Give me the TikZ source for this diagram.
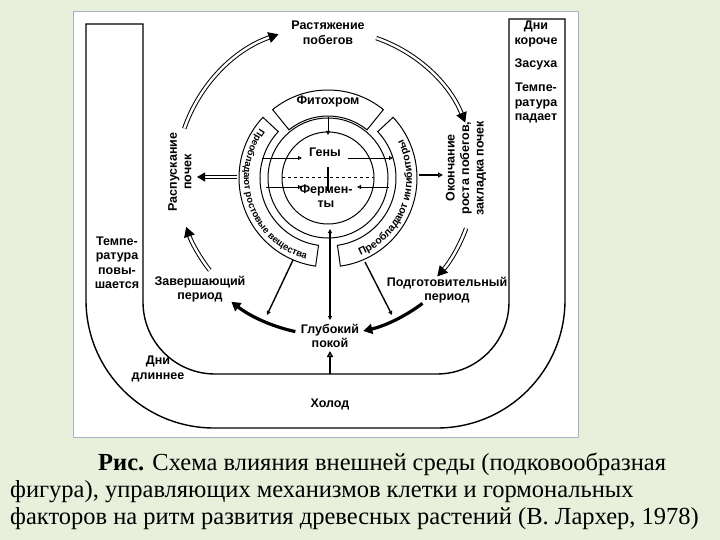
\documentclass[tikz,border=0pt]{standalone}
\usepackage{fontspec}
\setmainfont{Liberation Serif}
\setsansfont{Liberation Sans}
\usetikzlibrary{arrows.meta,calc,decorations.text}
\definecolor{bgfill}{RGB}{232,239,219}
\definecolor{panelline}{RGB}{165,180,195}

\begin{document}
\begin{tikzpicture}[x=1pt,y=-1pt,
lbl/.style={%
font=\sffamily\bfseries\fontsize{12.5}{14.5}\selectfont,
align=center,
inner sep=0pt
},
hollow/.style={%
draw=black,
line width=1pt,
double=white,
double distance=2.4pt,
-{Triangle[length=10pt,width=11pt]}
},
heavy/.style={%
line width=3.2pt,
-{Triangle[length=9pt,width=10pt]}
},
thin/.style={%
line width=0.9pt,
-{Triangle[open,length=4pt,width=4pt]}
},
segment/.style={%
draw,
line width=1pt,
fill=white
},
arctext/.style 2 args={%
decorate,
decoration={text along path,text align=center,
text={|\sffamily\bfseries\fontsize{#1}{10}\selectfont|#2}}
},
capline/.style={%
anchor=base west,
inner sep=0pt,
font=\fontsize{24.5}{27}\selectfont
},
]
%% Background and panel
\fill[bgfill](0,0)rectangle(720,540);
\useasboundingbox(0,0)rectangle(720,540);
\draw[panelline,fill=white,line width=0.8pt](73,11)rectangle(578,437);
%% Horseshoe
\draw[line width=1.4pt](86,24)--(143,24)--(143,302)
arc[start angle=180,end angle=90,radius=72]--(437,374)
arc[start angle=90,end angle=0,radius=72]--(509,19)--(565,19)--(565,300)
arc[start angle=0,end angle=90,radius=128]--(214,428)
arc[start angle=90,end angle=180,radius=128]--cycle;
%% Rings
\coordinate(C)at(328,178);
\draw[line width=1pt](C)circle[radius=46];
\draw[line width=1pt](C)circle[radius=60];
\draw[segment]($(C)+(-51:88)$)arc[start angle=-51,end angle=-129,radius=88]
--($(C)+(-129:62)$)arc[start angle=-129,end angle=-51,radius=62]--cycle;
\draw[segment]($(C)+(-137:89)$)arc[start angle=-137,end angle=-262,radius=89]
--($(C)+(-262:68)$)arc[start angle=-262,end angle=-137,radius=68]--cycle;
\draw[segment]($(C)+(82:89)$)arc[start angle=82,end angle=-43,radius=89]
--($(C)+(-43:68)$)arc[start angle=-43,end angle=82,radius=68]--cycle;
\path[arctext={9.5}{Преобладают ростовые вещества}]($(C)+(-137:84)$)
arc[start angle=-137,end angle=-262,radius=84];
\path[arctext={10.5}{Преобладают ингибиторы}]($(C)+(80:84)$)
arc[start angle=80,end angle=-40,radius=84];
\node[lbl](fito)at(328,101){Фитохром};
\node[lbl](geny)at(325,152){Гены};
\node[lbl](ferm)at(326,196){Фермен-\\ты};
%% Inner arrows
\coordinate(fitoin)at(328,117);
\coordinate(fitoout)at(328,135);
\draw[thin](fitoin)--(fitoout);
\coordinate(gl)at(262,158);
\coordinate(gli)at(302,158);
\coordinate(gri)at(348,158);
\coordinate(gr)at(393,158);
\draw[thin](gl)--(gli);
\draw[thin](gri)--(gr);
\coordinate(fl)at(266,187);
\coordinate(fli)at(302,187);
\coordinate(fr)at(389,187);
\coordinate(fri)at(357,187);
\draw[thin](fl)--(fli);
\draw[thin](fr)--(fri);
\coordinate(dl)at(282,177);
\coordinate(dr)at(374,177);
\draw[dashed,line width=0.8pt](dl)--(dr);
\coordinate(vt)at(328,167);
\coordinate(vb)at(328,191);
\draw[line width=1.6pt](vt)--(vb);
%% Stages
\node[lbl](rast)at(328,33){Растяжение\\побегов};
\node[lbl,rotate=90](rasp)at(180,172){Распускание\\почек};
\node[lbl,rotate=90](okon)at(466,168){Окончание\\роста побегов,\\закладка почек};
\node[lbl](zav)at(200,289){Завершающий\\период};
\node[lbl](podg)at(447,290){Подготовительный\\период};
\node[lbl](glub)at(330,336){Глубокий\\покой};
%% Cycle arrows
\draw[hollow](C)++(-161:152)arc[start angle=-161,end angle=-109,radius=152];
\draw[hollow](C)++(-71:148)arc[start angle=-71,end angle=-22,radius=148];
\draw[hollow](C)++(20:147)arc[start angle=20,end angle=42,radius=147];
\draw[hollow](C)++(-218:150)arc[start angle=-218,end angle=-199,radius=150];
\draw[heavy](C)++(53:157)arc[start angle=53,end angle=77,radius=157];
\draw[heavy](C)++(102:157)arc[start angle=102,end angle=128,radius=157];
\coordinate(lout)at(237,177);
\coordinate(lin)at(197,177);
\draw[hollow,-{Triangle[length=8pt,width=9pt]}](lout)--(lin);
\coordinate(rout)at(419,175);
\coordinate(rin)at(443,175);
\draw[thin,line width=1.2pt,-{Triangle[open,length=5pt,width=5pt]}](rout)--(rin);
\coordinate(sl)at(293,260);
\coordinate(el)at(267,315);
\draw[thin,line width=1.4pt](sl)--(el);
\coordinate(sm)at(330,229);
\coordinate(em)at(330,320);
\draw[thin,line width=1.4pt,{Triangle[open,length=4pt,width=4pt]}-{Triangle[open,length=4pt,width=4pt]}](sm)--(em);
\coordinate(sr)at(365,262);
\coordinate(er)at(392,315);
\draw[thin,line width=1.4pt](sr)--(er);
\coordinate(hb)at(330,374);
\coordinate(ht)at(330,351);
\draw[thin,line width=1.4pt,-{Triangle[open,length=6pt,width=6pt]}](hb)--(ht);
%% Environment
\node[lbl](kholod)at(330,404){Холод};
\node[lbl](dlin)at(158,369){Дни\\длиннее};
\node[lbl](tup)at(117,263){Темпе-\\ратура\\повы-\\шается};
\node[lbl](dkor)at(536,34){Дни\\короче};
\node[lbl](zas)at(536,64){Засуха};
\node[lbl](tdown)at(536,103){Темпе-\\ратура\\падает};
%% Caption
\node[capline](cap1)at(98,470){\textbf{Рис.} Схема влияния внешней среды (подковообразная};
\node[capline](cap2)at(10,497){фигура), управляющих механизмов клетки и гормональных};
\node[capline](cap3)at(10,524){факторов на ритм развития древесных растений (В. Лархер, 1978)};
\end{tikzpicture}
\end{document}
